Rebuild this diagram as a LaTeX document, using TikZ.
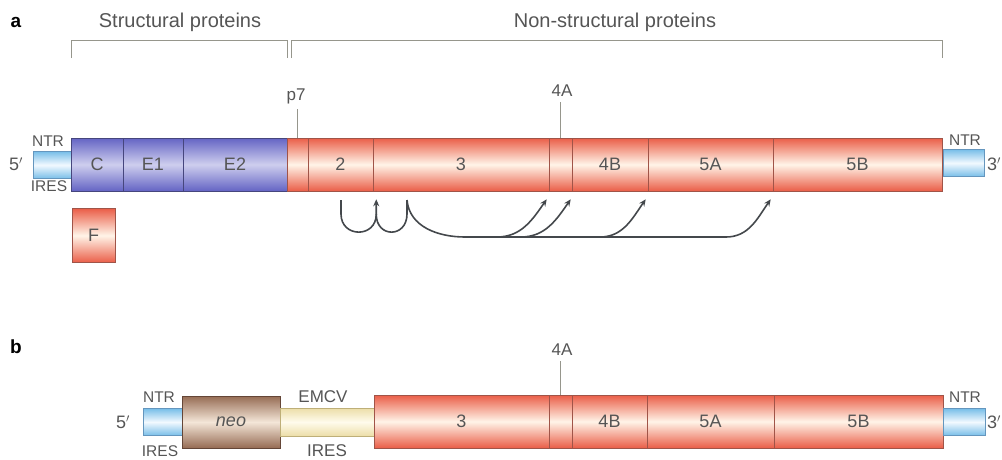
\documentclass[tikz,border=0pt]{standalone}
\usepackage{fontspec}
\setmainfont{Liberation Sans}
\usetikzlibrary{calc,arrows.meta}

\definecolor{redE}{RGB}{234,94,72}
\definecolor{redM}{RGB}{255,244,232}
\definecolor{redD}{RGB}{160,84,72}
\definecolor{bluE}{RGB}{100,100,196}
\definecolor{bluM}{RGB}{206,206,238}
\definecolor{bluD}{RGB}{70,70,125}
\definecolor{cyaE}{RGB}{120,190,232}
\definecolor{cyaM}{RGB}{242,249,255}
\definecolor{cyaD}{RGB}{100,150,190}
\definecolor{brnE}{RGB}{150,108,84}
\definecolor{brnM}{RGB}{244,230,216}
\definecolor{brnD}{RGB}{100,70,55}
\definecolor{ylwE}{RGB}{236,222,168}
\definecolor{ylwM}{RGB}{255,251,236}
\definecolor{ylwD}{RGB}{190,175,120}
\definecolor{txtc}{RGB}{85,85,85}
\definecolor{brk}{RGB}{150,150,140}
\definecolor{arr}{RGB}{68,72,76}

\begin{document}
\begin{tikzpicture}[x=1pt,y=-1pt,
  lbl/.style={text=txtc,inner sep=0pt,font=\fontsize{15.5}{15.5}\selectfont},
  segbox/.style={inner sep=0pt,minimum height=53pt,text=txtc,
    font=\fontsize{18}{18}\selectfont,line width=.5pt},
  redbox/.style={segbox,draw=redD,top color=redE,bottom color=redE,middle color=redM},
  bluebox/.style={segbox,draw=bluD,top color=bluE,bottom color=bluE,middle color=bluM},
  neobox/.style={segbox,draw=brnD,top color=brnE,bottom color=brnE,middle color=brnM},
  ntrbox/.style={inner sep=0pt,minimum height=27pt,line width=.5pt,
    draw=cyaD,top color=cyaE,bottom color=cyaE,middle color=cyaM},
  iresbox/.style={inner sep=0pt,minimum height=28pt,line width=.5pt,
    draw=ylwD,top color=ylwE,bottom color=ylwE,middle color=ylwM},
  brace/.style={draw=brk,line width=.8pt},
  tick/.style={draw=brk,line width=.6pt,shorten >=5pt},
  cut/.style={draw=arr,line width=1.6pt,-{Stealth[length=7pt,width=6pt]}},
  cutline/.style={draw=arr,line width=1.6pt}]
  \useasboundingbox (0,0) rectangle (1002,459);
  %
  % Panel letters
  \node[font=\bfseries\fontsize{19}{19}\selectfont] (pa) at (16,22) {a};
  \node[font=\bfseries\fontsize{19}{19}\selectfont] (pb) at (16,347) {b};
  %
  % Brackets
  \node[lbl,font=\fontsize{20}{20}\selectfont] (struct) at (180,22) {Structural proteins};
  \node[lbl,font=\fontsize{20}{20}\selectfont] (nonstruct) at (615,22) {Non-structural proteins};
  \draw[brace] (71,58) -- (71,40) -- (287,40) -- (287,58);
  \draw[brace] (291,58) -- (291,40) -- (942,40) -- (942,58);
  %
  % Genome (a)
  \node[ntrbox,minimum width=38pt] (ntrla) at (52,165) {};
  \node[ntrbox,minimum width=41pt] (ntrra) at (963.5,163) {};
  \foreach \xa/\xb/\lab/\nm in {71/123/C/c,123/183/E1/ea,183/287/E2/eb}
    \node[bluebox,minimum width={(\xb-\xa)*1pt}] (\nm) at ({(\xa+\xb)/2},164.5) {\lab};
  \foreach \xa/\xb/\lab/\nm in {287/308//sp7,308/373/2/ns2,373/549/3/ns3,
      549/572//nsfa,572/648/4B/nsfb,648/773/5A/nsva,773/942/5B/nsvb}
    \node[redbox,minimum width={(\xb-\xa)*1pt}] (\nm) at ({(\xa+\xb)/2},164.5) {\lab};
  \node[redbox,minimum width=43pt,minimum height=54pt] (f) at (93.5,235.5) {F};
  %
  % Labels (a)
  \node[lbl] (ntrta) at (48,141) {NTR};
  \node[lbl] (iresa) at (49,186) {IRES};
  \node[lbl,font=\fontsize{18}{18}\selectfont] (fivea) at (16,164) {5$'$};
  \node[lbl] (ntrtra) at (965,140) {NTR};
  \node[lbl,font=\fontsize{18}{18}\selectfont,anchor=west] (threea) at (987,164) {3$'$};
  \node[lbl,font=\fontsize{17}{17}\selectfont] (p7lab) at (296,96) {p7};
  \node[lbl,font=\fontsize{17}{17}\selectfont] (falab) at (562,91) {4A};
  \draw[tick] (sp7.north) -- (sp7.north |- p7lab.south);
  \draw[tick] (nsfa.north) -- (nsfa.north |- falab.south);
  %
  % Cleavage arrows
  \coordinate (s2) at (341,200);
  \coordinate (s3) at (407,200);
  \coordinate (t23) at ($(ns2.south east)+(3,8)$);
  \coordinate (t34) at ($(nsfa.south west)+(-2,8)$);
  \coordinate (t4a) at ($(nsfb.south west)+(-1,8)$);
  \coordinate (t4b) at ($(nsva.south west)+(-2,8)$);
  \coordinate (t5a) at ($(nsvb.south west)+(-2,8)$);
  \coordinate (ja) at (497,237);
  \coordinate (jb) at (521,237);
  \coordinate (jc) at (600,237);
  \coordinate (jd) at (726,237);
  \draw[cut] (s2) -- ($(s2)+(0,14)$) .. controls ($(s2)+(0,38)$) and ($(t23)+(0,39)$)
    .. ($(t23)+(0,15)$) -- (t23);
  \draw[cutline] (s3) -- ($(s3)+(0,14)$) .. controls ($(s3)+(0,38)$) and ($(t23)+(0,39)$)
    .. ($(t23)+(0,15)$);
  \draw[cut] (s3) to[out=-85,in=180] (465,237) -- (jd) to[out=0,in=-125] (t5a);
  \draw[cut] (ja) to[out=0,in=-125] (t34);
  \draw[cut] (jb) to[out=0,in=-125] (t4a);
  \draw[cut] (jc) to[out=0,in=-125] (t4b);
  %
  % Replicon (b)
  \node[ntrbox,minimum width=39pt] (ntrlb) at (162.5,422) {};
  \node[neobox,minimum width=98pt,minimum height=52pt] (neo) at (231,422) {\itshape neo};
  \node[iresbox,minimum width=94pt] (emcv) at (327,422) {};
  \foreach \xa/\xb/\lab/\nm in {374/549/3/bns3,549/572//bnsfa,572/647/4B/bnsfb,
      647/774/5A/bnsva,774/943/5B/bnsvb}
    \node[redbox,minimum width={(\xb-\xa)*1pt}] (\nm) at ({(\xa+\xb)/2},421.5) {\lab};
  \node[ntrbox,minimum width=42pt] (ntrrb) at (964,422) {};
  %
  % Labels (b)
  \node[lbl] (ntrtb) at (159,397) {NTR};
  \node[lbl] (iresb) at (160,451) {IRES};
  \node[lbl,font=\fontsize{18}{18}\selectfont] (fiveb) at (123,422) {5$'$};
  \node[lbl,font=\fontsize{17}{17}\selectfont] (emcvlab) at (323,397) {EMCV};
  \node[lbl,font=\fontsize{17}{17}\selectfont] (emcvires) at (327,451) {IRES};
  \node[lbl] (ntrtrb) at (965,397) {NTR};
  \node[lbl,font=\fontsize{18}{18}\selectfont,anchor=west] (threeb) at (987,422) {3$'$};
  \node[lbl,font=\fontsize{17}{17}\selectfont] (fablab) at (562,350) {4A};
  \draw[tick] (bnsfa.north) -- (bnsfa.north |- fablab.south);
\end{tikzpicture}
\end{document}
